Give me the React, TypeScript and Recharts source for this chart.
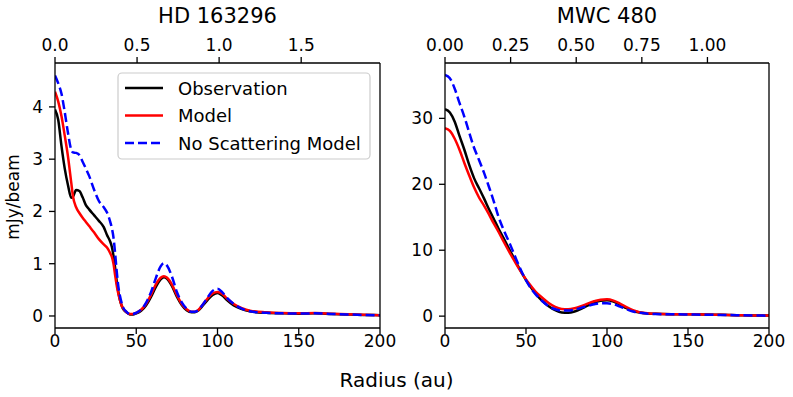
import { Line, LineChart, XAxis, YAxis } from 'recharts'

// HD 163296 radial profiles (mJy/beam)
const hdRadius = [0, 2, 4, 6, 8, 10, 11, 13, 15, 17, 19, 21, 24, 27, 30, 32, 34, 35, 36, 37, 38, 39, 40, 41, 42, 44, 46, 48, 50, 53, 56, 59, 62, 65, 67, 69, 72, 75, 78, 81, 84, 86, 88, 91, 94, 97, 100, 103, 106, 110, 115, 120, 130, 140, 150, 160, 170, 180, 190, 200]
const hdObservation = [3.95, 3.75, 3.25, 2.82, 2.5, 2.26, 2.28, 2.41, 2.39, 2.27, 2.12, 2.04, 1.93, 1.82, 1.7, 1.55, 1.42, 1.32, 1.15, 0.92, 0.66, 0.46, 0.3, 0.2, 0.13, 0.07, 0.03, 0.03, 0.05, 0.1, 0.2, 0.36, 0.55, 0.7, 0.74, 0.71, 0.57, 0.37, 0.21, 0.11, 0.07, 0.07, 0.1, 0.2, 0.31, 0.4, 0.44, 0.39, 0.3, 0.2, 0.13, 0.09, 0.06, 0.05, 0.045, 0.05, 0.04, 0.03, 0.02, 0.015]
const hdModel = [4.29, 4.1, 3.82, 3.45, 3.05, 2.55, 2.3, 2.08, 1.97, 1.88, 1.8, 1.72, 1.6, 1.47, 1.37, 1.31, 1.2, 1.13, 1.0, 0.78, 0.58, 0.42, 0.3, 0.2, 0.14, 0.07, 0.04, 0.04, 0.06, 0.12, 0.23, 0.4, 0.6, 0.73, 0.76, 0.73, 0.6, 0.4, 0.23, 0.13, 0.08, 0.08, 0.11, 0.22, 0.34, 0.43, 0.46, 0.42, 0.33, 0.23, 0.15, 0.1, 0.07, 0.055, 0.05, 0.055, 0.045, 0.035, 0.025, 0.015]
const hdNoScattering = [4.6, 4.45, 4.25, 3.9, 3.5, 3.18, 3.13, 3.12, 3.08, 2.95, 2.82, 2.68, 2.42, 2.2, 2.08, 1.98, 1.8, 1.68, 1.5, 1.2, 0.85, 0.56, 0.38, 0.25, 0.16, 0.08, 0.04, 0.04, 0.06, 0.12, 0.25, 0.45, 0.72, 0.95, 1.01, 0.96, 0.75, 0.46, 0.26, 0.14, 0.08, 0.08, 0.11, 0.22, 0.36, 0.48, 0.52, 0.45, 0.34, 0.23, 0.14, 0.09, 0.06, 0.05, 0.045, 0.05, 0.04, 0.03, 0.02, 0.015]

// MWC 480 radial profiles (mJy/beam)
const mwcRadius = [0, 3, 6, 9, 12, 15, 18, 21, 24, 27, 30, 33, 36, 40, 44, 48, 52, 56, 60, 64, 68, 72, 76, 80, 84, 88, 92, 96, 100, 104, 108, 112, 116, 120, 125, 130, 140, 150, 160, 170, 180, 190, 200]
const mwcObservation = [31.4, 30.9, 29.5, 27.3, 25.2, 22.9, 20.9, 19.4, 17.9, 16.3, 14.8, 13.3, 11.9, 10.0, 8.1, 6.3, 4.7, 3.4, 2.3, 1.5, 0.9, 0.55, 0.5, 0.7, 1.1, 1.6, 2.05, 2.35, 2.4, 2.2, 1.75, 1.2, 0.8, 0.55, 0.4, 0.35, 0.3, 0.28, 0.25, 0.2, 0.15, 0.1, 0.08]
const mwcModel = [28.5, 28.1, 26.9, 25.2, 23.2, 21.3, 19.5, 18.0, 16.8, 15.5, 14.1, 12.8, 11.4, 9.6, 7.9, 6.3, 4.9, 3.7, 2.8, 2.0, 1.4, 1.1, 1.05, 1.2, 1.5, 1.9, 2.25, 2.5, 2.55, 2.35, 1.9, 1.35, 0.9, 0.6, 0.42, 0.36, 0.3, 0.28, 0.25, 0.2, 0.15, 0.1, 0.08]
const mwcNoScattering = [36.6, 36.1, 34.5, 32.3, 30.2, 27.8, 25.5, 23.7, 21.8, 19.7, 17.5, 15.1, 13.2, 11.0, 8.6, 6.4, 4.6, 3.3, 2.3, 1.5, 1.05, 0.85, 0.85, 1.0, 1.25, 1.55, 1.8, 1.95, 1.95, 1.8, 1.45, 1.05, 0.7, 0.5, 0.38, 0.32, 0.28, 0.25, 0.22, 0.18, 0.14, 0.1, 0.07]

const radiusTicks = [0, 50, 100, 150, 200]
const hdFluxTicks = [0, 1, 2, 3, 4]
const mwcFluxTicks = [0, 10, 20, 30]
const hdArcsecTicks = [0, 0.5, 1.0, 1.5]
const mwcArcsecTicks = [0, 0.25, 0.5, 0.75, 1.0]
const hdDistance = 101 // au per arcsec
const mwcDistance = 162

const FONT = '"DejaVu Sans", sans-serif'
const tickStyle = { fill: '#000', fontSize: 17, fontFamily: FONT }

function buildRows(radius: number[], obs: number[], model: number[], noScat: number[]) {
  return radius.map((r, i) => ({ r, obs: obs[i], model: model[i], noScat: noScat[i] }))
}

interface PanelProps {
  rows: ReturnType<typeof buildRows>
  left: number
  width: number
  yWidth: number
  rightWidth: number
  yDomain: [number, number]
  yTicks: number[]
  arcTicks: number[]
  distance: number
  arcDigits: number
}

function Panel({ rows, left, width, yWidth, rightWidth, yDomain, yTicks, arcTicks, distance, arcDigits }: PanelProps) {
  return (
    <div style={{ position: 'absolute', left, top: 0 }}>
      <LineChart width={width} height={397} data={rows} margin={{ top: 30, right: 0, bottom: 39, left: 0 }}>
        <XAxis
          dataKey="r"
          type="number"
          domain={[0, 200]}
          ticks={radiusTicks}
          allowDataOverflow
          stroke="#000"
          strokeWidth={1.3}
          tickSize={6}
          tickMargin={1}
          height={30}
          tick={tickStyle}
        />
        <XAxis
          xAxisId="top"
          orientation="top"
          dataKey="r"
          type="number"
          domain={[0, 200]}
          ticks={arcTicks.map(a => a * distance)}
          tickFormatter={(v: number) => (v / distance).toFixed(arcDigits)}
          allowDataOverflow
          stroke="#000"
          strokeWidth={1.3}
          tickSize={6}
          tickMargin={6}
          height={33}
          tick={tickStyle}
        />
        <YAxis
          type="number"
          domain={yDomain}
          ticks={yTicks}
          allowDataOverflow
          stroke="#000"
          strokeWidth={1.3}
          tickSize={6}
          tickMargin={6}
          width={yWidth}
          tick={tickStyle}
        />
        <YAxis
          yAxisId="right"
          orientation="right"
          type="number"
          domain={yDomain}
          allowDataOverflow
          stroke="#000"
          strokeWidth={1.3}
          tick={false}
          tickLine={false}
          width={rightWidth}
        />
        <Line type="monotone" dataKey="obs" stroke="#000" strokeWidth={2.5} dot={false} activeDot={false} isAnimationActive={false} />
        <Line type="monotone" dataKey="model" stroke="#ff0000" strokeWidth={2.5} dot={false} activeDot={false} isAnimationActive={false} />
        <Line type="monotone" dataKey="noScat" stroke="#0000ff" strokeWidth={2.5} strokeDasharray="9 4" dot={false} activeDot={false} isAnimationActive={false} />
        {/* keeps the top and right axes tied to the data */}
        <Line xAxisId="top" yAxisId="right" type="monotone" dataKey="obs" stroke="none" dot={false} activeDot={false} legendType="none" isAnimationActive={false} />
      </LineChart>
    </div>
  )
}

const legendItems = [
  { label: 'Observation', color: '#000', dash: undefined },
  { label: 'Model', color: '#ff0000', dash: undefined },
  { label: 'No Scattering Model', color: '#0000ff', dash: '9 4' },
]

export default function App() {
  const hdRows = buildRows(hdRadius, hdObservation, hdModel, hdNoScattering)
  const mwcRows = buildRows(mwcRadius, mwcObservation, mwcModel, mwcNoScattering)

  return (
    <div style={{ position: 'fixed', left: 0, top: 0, width: 793, height: 397, background: '#fff', overflow: 'hidden' }}>
      <Panel rows={hdRows} left={0} width={400} yWidth={55} rightWidth={20} yDomain={[-0.23, 4.84]} yTicks={hdFluxTicks} arcTicks={hdArcsecTicks} distance={hdDistance} arcDigits={1} />
      <Panel rows={mwcRows} left={400} width={393} yWidth={45} rightWidth={24} yDomain={[-1.8, 38.4]} yTicks={mwcFluxTicks} arcTicks={mwcArcsecTicks} distance={mwcDistance} arcDigits={2} />
      <svg width={793} height={397} style={{ position: 'absolute', left: 0, top: 0, pointerEvents: 'none' }} fontFamily={FONT}>
        <text x={217.5} y={22.5} textAnchor="middle" fontSize={21} fill="#000">HD 163296</text>
        <text x={607} y={22.5} textAnchor="middle" fontSize={21} fill="#000">MWC 480</text>
        <text transform="translate(18.5,197) rotate(-90)" textAnchor="middle" fontSize={17} fill="#000">mJy/beam</text>
        <text x={396.5} y={387} textAnchor="middle" fontSize={20} fill="#000">Radius (au)</text>
        <rect x={118} y={73} width={252} height={86} rx={4} fill="#fff" fillOpacity={0.8} stroke="#cccccc" strokeWidth={1.2} />
        {legendItems.map((item, i) => {
          const cy = 88 + i * 27.5
          return (
            <g key={item.label}>
              <line x1={125} x2={163} y1={cy} y2={cy} stroke={item.color} strokeWidth={2.5} strokeDasharray={item.dash} />
              <text x={178} y={cy} dominantBaseline="central" fontSize={18} fill="#000">{item.label}</text>
            </g>
          )
        })}
      </svg>
    </div>
  )
}
